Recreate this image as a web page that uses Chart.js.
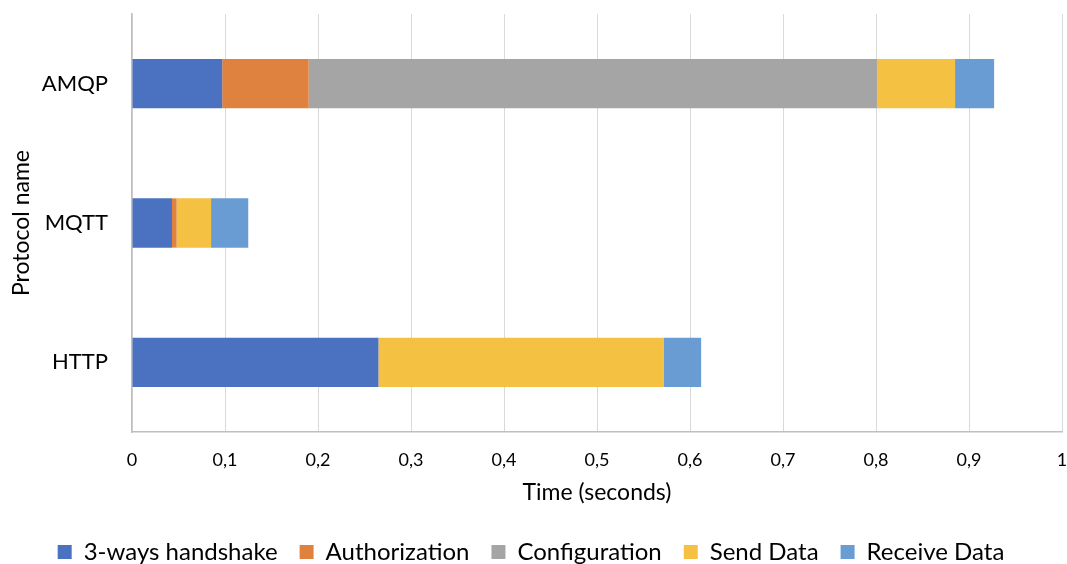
<!DOCTYPE html>
<html>
<head>
<meta charset="utf-8">
<script src="https://cdn.jsdelivr.net/npm/chart.js@4/dist/chart.umd.min.js"></script>
<style>
  html, body { margin: 0; padding: 0; background: #ffffff; }
  #wrap { width: 1067px; height: 564px; position: relative; }
</style>
</head>
<body>
<div id="wrap"><canvas id="chart"></canvas></div>
<script>
// Protocols on the category axis (top to bottom)
const protocols = ['AMQP', 'MQTT', 'HTTP'];

// Time spent per phase, in seconds, for each protocol
const handshake     = [0.097, 0.043, 0.265];
const authorization = [0.093, 0.005, 0];
const configuration = [0.611, 0, 0];
const sendData      = [0.084, 0.037, 0.307];
const receiveData   = [0.042, 0.040, 0.040];

const seriesNames = ['3-ways handshake', 'Authorization', 'Configuration', 'Send Data', 'Receive Data'];
const seriesValues = [handshake, authorization, configuration, sendData, receiveData];
const seriesColors = ['#4A72C0', '#E0823F', '#A5A5A5', '#F5C142', '#689CD2'];

const FONT = "Lato, 'Open Sans', 'Liberation Sans', sans-serif";

// Drop the label-overhang padding that scales reserve around the plot
const noOverhang = s => {
  s.paddingTop = 0; s.paddingBottom = 0; s.paddingLeft = 0; s.paddingRight = 0;
};

new Chart(document.getElementById('chart'), {
  type: 'bar',
  data: {
    labels: protocols,
    datasets: seriesNames.map((name, i) => ({
      label: name,
      data: seriesValues[i],
      backgroundColor: seriesColors[i],
      borderWidth: 0,
      barPercentage: 0.7,
      categoryPercentage: 0.505
    }))
  },
  options: {
    indexAxis: 'y',
    responsive: true,
    maintainAspectRatio: false,
    animation: false,
    layout: { autoPadding: false, padding: { top: 14, right: 5, left: 0, bottom: -10 } },
    plugins: {
      tooltip: { enabled: false },
      legend: {
        position: 'bottom',
        labels: {
          font: { family: FONT, size: 24 },
          color: '#000',
          boxWidth: 14,
          boxHeight: 14,
          padding: 22
        }
      }
    },
    scales: {
      x: {
        stacked: true,
        min: 0,
        max: 1,
        ticks: {
          stepSize: 0.1,
          font: { family: FONT, size: 18 },
          color: '#000',
          padding: 17,
          maxRotation: 0,
          callback: v => {
            const r = Math.round(v * 10) / 10;
            return (r === 0 || r === 1) ? String(r) : r.toFixed(1).replace('.', ',');
          }
        },
        grid: { color: '#D9D9D9', lineWidth: 1, drawTicks: false },
        border: { color: '#BFBFBF', width: 1.5 },
        title: {
          display: true,
          text: 'Time (seconds)',
          font: { family: FONT, size: 23 },
          color: '#000',
          padding: { top: 10, bottom: 12 }
        },
        afterFit: s => { noOverhang(s); s.height = 86; }
      },
      y: {
        stacked: true,
        afterFit: s => { noOverhang(s); s.width = 132; },
        ticks: {
          font: { family: FONT, size: 22 },
          color: '#000',
          padding: 24
        },
        grid: { display: false, drawTicks: false },
        border: { color: '#BFBFBF', width: 1.5 },
        title: {
          display: true,
          text: 'Protocol name',
          font: { family: FONT, size: 23 },
          color: '#000',
          padding: { top: 8, bottom: 0 }
        }
      }
    }
  }
});
</script>
</body>
</html>
